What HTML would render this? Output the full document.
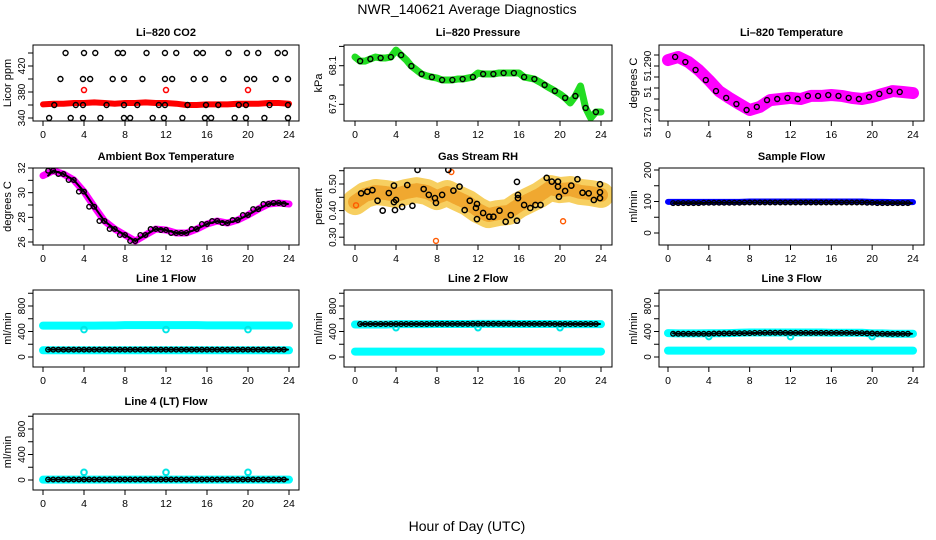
<!DOCTYPE html>
<html><head><meta charset="utf-8">
<style>
html,body{margin:0;padding:0;background:#fff;}
svg{display:block;font-family:"Liberation Sans",sans-serif;}
</style></head>
<body>
<svg id="chart" width="936" height="540" viewBox="0 0 936 540" xmlns="http://www.w3.org/2000/svg">
<rect x="0" y="0" width="936" height="540" fill="#fff"/>
<text x="467" y="14" text-anchor="middle" font-size="14">NWR_140621  Average Diagnostics</text>
<text x="467" y="531" text-anchor="middle" font-size="14">Hour of Day (UTC)</text>
</svg>
<script>
const HOURS = [0,1,2,3,4,5,6,7,8,9,10,11,12,13,14,15,16,17,18,19,20,21,22,23,24];
const HALF_HOURS = [0,0.5,1,1.5,2,2.5,3,3.5,4,4.5,5,5.5,6,6.5,7,7.5,8,8.5,9,9.5,10,10.5,11,11.5,12,12.5,13,13.5,14,14.5,15,15.5,16,16.5,17,17.5,18,18.5,19,19.5,20,20.5,21,21.5,22,22.5,23,23.5,24];
const X_TICKS = [0,4,8,12,16,20,24];
const DIP_HOURS = [4,12,20];

// CO2
const co2Red = [361,362,362,363,363,364,363,362,363,363,364,363,363,362,360,360,361,361,361,362,362,362,363,363,362];
const co2RedDips = [383,383,383];
const co2BlackHours = [2.2,4,5.1,7.3,7.8,10.1,11.9,13,15,15.6,18.1,19.9,21,22.9,23.6, 1.7,3.9,4.6,6.8,7.9,9.7,11.9,12.6,14.7,15.8,17.6,19.9,20.6,22.7,23.9, 1.1,3.2,3.9,6.2,7.9,9.2,11.3,11.9,14.1,15.9,17.1,19.1,19.8,22.1,23.9, 0.6,2.7,3.9,5.6,7.9,8.5,10.7,11.8,13.6,15.8,16.4,18.7,19.8,21.6,23.9];
const co2BlackVals = [440,440,440,440,440,440,440,440,440,440,440,440,440,440,440, 400,400,400,400,400,400,400,400,400,400,400,400,400,400,400, 360,360,360,360,360,360,360,360,360,360,360,360,360,360,360, 340,340,340,340,340,340,340,340,340,340,340,340,340,340,340];
// Pressure (half-hourly)
const pressure = [68.145,68.124,68.124,68.135,68.145,68.140,68.140,68.145,68.181,68.155,68.130,68.098,68.078,68.057,68.047,68.041,68.036,68.026,68.026,68.026,68.031,68.031,68.036,68.041,68.062,68.057,68.057,68.057,68.062,68.062,68.062,68.062,68.062,68.041,68.036,68.031,68.016,68.0,67.984,67.969,67.953,67.933,67.907,67.943,67.995,67.881,67.829,67.86,67.86];
// Li-820 temperature
const licorTemp = [51.2927,51.2941,51.2918,51.2882,51.2836,51.2786,51.2755,51.2727,51.27,51.2714,51.2745,51.275,51.2755,51.275,51.2764,51.2764,51.2768,51.2764,51.2755,51.275,51.2759,51.2773,51.2786,51.2782,51.2777];
// Ambient box temperature
const ambientTemp = [31.38,31.78,31.51,31.03,30.08,28.86,27.70,27.05,26.57,26.08,26.57,27.05,26.97,26.73,26.73,27.05,27.46,27.70,27.54,27.78,28.19,28.67,29.08,29.16,29.08];
// Gas stream RH
const rhBand = [0.432,0.459,0.47,0.466,0.459,0.47,0.477,0.47,0.451,0.466,0.447,0.429,0.402,0.383,0.391,0.395,0.421,0.44,0.459,0.485,0.477,0.481,0.47,0.466,0.459];
const rhBlackHours = [0.6,1.2,1.7,2.2,2.7,3.3,3.8,3.8,4,3.9,4.6,5.1,5.6,6.1,6.7,7.2,7.8,7.9,8.5,9.1,9.6,10.2,10.7,11.2,11.8,11.9,11.9,12.5,13.1,13.5,14.1,14.7,15.2,15.8,15.8,15.9,15.9,16.5,17.1,17.6,18.1,18.7,19.2,19.8,19.8,19.9,20.5,21.1,21.7,22.2,22.8,23.3,23.9,23.9,23.9];
const rhBlackVals = [0.465,0.471,0.477,0.437,0.4,0.466,0.494,0.432,0.44,0.402,0.414,0.496,0.418,0.553,0.481,0.459,0.447,0.429,0.459,0.553,0.475,0.49,0.402,0.437,0.41,0.368,0.425,0.391,0.377,0.377,0.4,0.358,0.383,0.508,0.362,0.459,0.447,0.421,0.41,0.421,0.421,0.523,0.509,0.509,0.49,0.452,0.474,0.494,0.518,0.467,0.465,0.44,0.499,0.469,0.447];
const rhOutlierHours = [7.9,20.3,0.1,9.4];
const rhOutlierVals = [0.286,0.36,0.42,0.545];
// Sample flow
const sampleBlue = [99,99,99,99,99,99,99,99,100,100,100,100,100,100,100,100,100,100,100,100,99,99,98,98,98];
const sampleBlack = [95,95,95,95,96,96,96,96,97,97,97,97,97,97,97,97,97,97,97,97,96,95,95,95,95];
// Line flows
const line1Hi = [492,492,492,492,492,492,495,495,500,500,500,500,500,500,500,500,497,497,497,497,495,495,495,495,495];
const line1Lo = [105,105,105,105,105,105,105,105,105,105,105,105,105,105,105,105,105,105,105,105,105,105,105,105,105];
const line1Black = [115,115,115,115,115,115,115,115,115,115,115,115,115,115,115,115,115,115,115,115,115,115,115,115,115];
const line1Dips = [430,430,430];
const line2Hi = [510,510,510,510,515,515,515,515,518,518,518,518,520,520,520,520,518,518,518,518,515,515,515,515,515];
const line2Lo = [85,85,85,85,85,85,85,85,85,85,85,85,85,85,85,85,85,85,85,85,85,85,85,85,85];
const line2Black = [515,518,518,518,518,518,518,518,520,520,520,520,522,522,522,522,520,520,520,520,518,518,518,518,518];
const line2Dips = [460,460,460];
const line3Hi = [375,370,370,370,372,372,375,380,385,385,385,385,385,385,385,385,380,380,380,380,370,370,365,365,365];
const line3Lo = [100,100,100,100,100,100,100,100,100,100,100,100,100,100,100,100,100,100,100,100,100,100,100,100,100];
const line3Black = [370,365,365,365,365,368,370,372,375,378,380,380,378,378,378,378,378,378,378,375,370,365,362,362,365];
const line3Dips = [320,320,320];
const line4Cyan = [5,5,5,5,5,5,5,5,5,5,5,5,5,5,5,5,5,5,5,5,5,5,5,5,5];
const line4Black = [8,8,8,8,8,8,8,8,8,8,8,8,8,8,8,8,8,8,8,8,8,8,8,8,8];
const line4Dips = [120,120,120];

const NS = "http://www.w3.org/2000/svg";
const svg = document.getElementById('chart');
function mk(tag, attrs, parent){const e=document.createElementNS(NS,tag);for(const k in attrs)e.setAttribute(k,attrs[k]);(parent||svg).appendChild(e);return e;}

const COLS = [{b0:33,b1:299,x0:43,x1:289},{b0:344,b1:612,x0:355,x1:601},{b0:659,b1:924,x0:668,x1:913}];
const ROWS = [{t:45,b:121,title:36},{t:168,b:245,title:160},{t:290,b:367,title:282},{t:414,b:490,title:405}];

function panel(cfg){
  const c=COLS[cfg.col], r=ROWS[cfg.row];
  const g=mk('g',{});
  
  
  const xs=h=>c.x0+(c.x1-c.x0)*h/24;
  const ys=v=>cfg.p1+(v-cfg.v1)*(cfg.p2-cfg.p1)/(cfg.v2-cfg.v1);
  const clip='clip'+cfg.name;
  const cp=mk('clipPath',{id:clip},g); mk('rect',{x:c.b0,y:r.t,width:c.b1-c.b0,height:r.b-r.t},cp);
  const plot=mk('g',{'clip-path':'url(#'+clip+')'},g);
  const t=mk('text',{x:(c.b0+c.b1)/2,y:r.title,'text-anchor':'middle','font-size':11,'font-weight':'bold'},g);
  t.textContent=cfg.title;
  
  
  mk('rect',{x:c.b0,y:r.t,width:c.b1-c.b0,height:r.b-r.t,fill:'none',stroke:'#000','stroke-width':1},g);
  for(const h of X_TICKS){
    const x=xs(h);
    mk('line',{x1:x,y1:r.b,x2:x,y2:r.b+5,stroke:'#000'},g);
    const tl=mk('text',{x:x,y:r.b+17,'text-anchor':'middle','font-size':10.5},g); tl.textContent=h;
    
    
  }
  for(const v of cfg.yticks){const y=ys(v); mk('line',{x1:c.b0-5,y1:y,x2:c.b0,y2:y,stroke:'#000'},g);}
  for(const l of cfg.ylabels){
    const y=l.y!==undefined?l.y:ys(l.v);
    const tl=mk('text',{x:0,y:0,'text-anchor':'middle','font-size':10,transform:`translate(${c.b0-8},${y}) rotate(-90)`},g);
    tl.textContent=l.t;
    
    
  }
  const yt=mk('text',{x:0,y:0,'text-anchor':'middle','font-size':11,transform:`translate(${c.b0-22},${(r.t+r.b)/2}) rotate(-90)`},g);
  yt.textContent=cfg.ylab;
  
  
  cfg.draw(plot,xs,ys);
}
function band(p,xs,ys,hours,vals,color,w,name,extra){
  const a={points:hours.map((h,i)=>xs(h)+','+ys(vals[i])).join(' '),fill:'none',stroke:color,'stroke-width':w,'stroke-linejoin':'round','stroke-linecap':'round'};
  if(extra)for(const k in extra)a[k]=extra[k];
  const pl=mk('polyline',a,p);
  
  
}
function dots(p,xs,ys,hours,vals,color,r,sw,name){
  hours.forEach((h,i)=>{
    const c=mk('circle',{cx:xs(h),cy:ys(vals[i]),r:r,fill:'none',stroke:color,'stroke-width':sw},p);
    
    
  });
}
function chain(p,xs,ys,vals,name){
  band(p,xs,ys,[0.5].concat(HOURS.slice(1,24)).concat([23.9]),[vals[0]].concat(vals.slice(1,24)).concat([vals[24]]),'#000',2,name+'-line');
  const hh=[], vv=[];
  HOURS.forEach((h,i)=>{ if(h>0){hh.push(h-0.5); vv.push(vals[i]);} if(h<24&&h>0){hh.push(h); vv.push(vals[i]);} });
  dots(p,xs,ys,hh,vv,'#000',2.3,1.4,name);
}

panel({name:'co2-panel',title:'Li\u2013820 CO2',col:0,row:0,ylab:'Licor ppm',v1:340,p1:118,v2:380,p2:92,
  yticks:[340,360,380,400,420,440],ylabels:[{v:340,t:'340'},{v:380,t:'380'},{v:420,t:'420'}],
  draw:(p,xs,ys)=>{band(p,xs,ys,HOURS,co2Red,'#ff0000',6,'co2-red-band');dots(p,xs,ys,DIP_HOURS,co2RedDips,'#ff0000',2.5,1.5,'co2-red-point');dots(p,xs,ys,co2BlackHours,co2BlackVals,'#000',2.5,1.4,'co2-black-point');}});
panel({name:'pressure-panel',title:'Li\u2013820 Pressure',col:1,row:0,ylab:'kPa',v1:68.1,p1:65.7,v2:67.9,p2:104.3,
  yticks:[67.9,68.0,68.1,68.2],ylabels:[{v:68.1,t:'68.1'},{v:67.9,t:'67.9'}],
  draw:(p,xs,ys)=>{band(p,xs,ys,HALF_HOURS,pressure,'#22dd22',7,'pressure-green-band');dots(p,xs,ys,HALF_HOURS.filter((h,i)=>i%2==1),pressure.filter((v,i)=>i%2==1),'#000',2.5,1.4,'pressure-black-point');}});
panel({name:'licor-temp-panel',title:'Li\u2013820 Temperature',col:2,row:0,ylab:'degrees C',v1:51.29,p1:66,v2:51.28,p2:88,
  yticks:[51.295,51.29,51.285,51.28,51.275,51.27],ylabels:[{v:51.29,t:'51.290'},{y:92,t:'51'},{y:122,t:'51.270'}],
  draw:(p,xs,ys)=>{band(p,xs,ys,HOURS,licorTemp,'#ff00ff',12,'licor-temp-band');dots(p,xs,ys,HOURS.slice(1,24).map(h=>h-0.3),licorTemp.slice(1,24),'#000',2.5,1.4,'licor-temp-black-point');}});
panel({name:'ambient-temp-panel',title:'Ambient Box Temperature',col:0,row:1,ylab:'degrees C',v1:32,p1:168,v2:26,p2:242,
  yticks:[26,27,28,29,30,31,32],ylabels:[{v:26,t:'26'},{v:28,t:'28'},{v:30,t:'30'},{v:32,t:'32'}],
  draw:(p,xs,ys)=>{band(p,xs,ys,HOURS,ambientTemp,'#ff00ff',7,'ambient-temp-band');chain(p,xs,ys,ambientTemp,'ambient-temp-black-point');}});
panel({name:'rh-panel',title:'Gas Stream RH',col:1,row:1,ylab:'percent',v1:0.5,p1:184,v2:0.4,p2:210.6,
  yticks:[0.3,0.35,0.4,0.45,0.5,0.55],ylabels:[{v:0.3,t:'0.30'},{v:0.4,t:'0.40'},{v:0.5,t:'0.50'}],
  draw:(p,xs,ys)=>{band(p,xs,ys,HOURS,rhBand,'#f7cf60',26,'rh-orange-band');band(p,xs,ys,HOURS,rhBand,'#f0a830',14,'rh-orange-core',{'stroke-dasharray':'3 2'});dots(p,xs,ys,rhOutlierHours,rhOutlierVals,'#ff5a00',2.5,1.4,'rh-outlier-point');dots(p,xs,ys,rhBlackHours,rhBlackVals,'#000',2.6,1.5,'rh-black-point');}});
panel({name:'sample-flow-panel',title:'Sample Flow',col:2,row:1,ylab:'ml/min',v1:0,p1:233,v2:200,p2:170,
  yticks:[0,50,100,150,200],ylabels:[{v:0,t:'0'},{v:100,t:'100'},{v:200,t:'200'}],
  draw:(p,xs,ys)=>{band(p,xs,ys,HOURS,sampleBlue,'#0000ff',6,'sample-blue-band');chain(p,xs,ys,sampleBlack,'sample-black-point');}});
const flowTicks=[0,200,400,600,800,1000], flowLabels=[{v:0,t:'0'},{v:400,t:'400'},{v:800,t:'800'}];
function flowPanel(name,title,col,row,p0,hi,lo,black,dipsV){
  panel({name:name,title:title,col:col,row:row,ylab:'ml/min',v1:0,p1:p0,v2:800,p2:p0-51,yticks:flowTicks,ylabels:flowLabels,
    draw:(p,xs,ys)=>{band(p,xs,ys,HOURS,hi,'#00ffff',8,name+'-cyan-high');if(lo)band(p,xs,ys,HOURS,lo,'#00ffff',8,name+'-cyan-low');dots(p,xs,ys,DIP_HOURS,dipsV,'#00e5e5',2.8,2,name+'-cyan-dip');chain(p,xs,ys,black,name+'-black-point');}});
}
flowPanel('line1-flow-panel','Line 1 Flow',0,2,357,line1Hi,line1Lo,line1Black,line1Dips);
flowPanel('line2-flow-panel','Line 2 Flow',1,2,357,line2Hi,line2Lo,line2Black,line2Dips);
flowPanel('line3-flow-panel','Line 3 Flow',2,2,357,line3Hi,line3Lo,line3Black,line3Dips);
flowPanel('line4-flow-panel','Line 4 (LT) Flow',0,3,480,line4Cyan,null,line4Black,line4Dips);
</script>
</body></html>
